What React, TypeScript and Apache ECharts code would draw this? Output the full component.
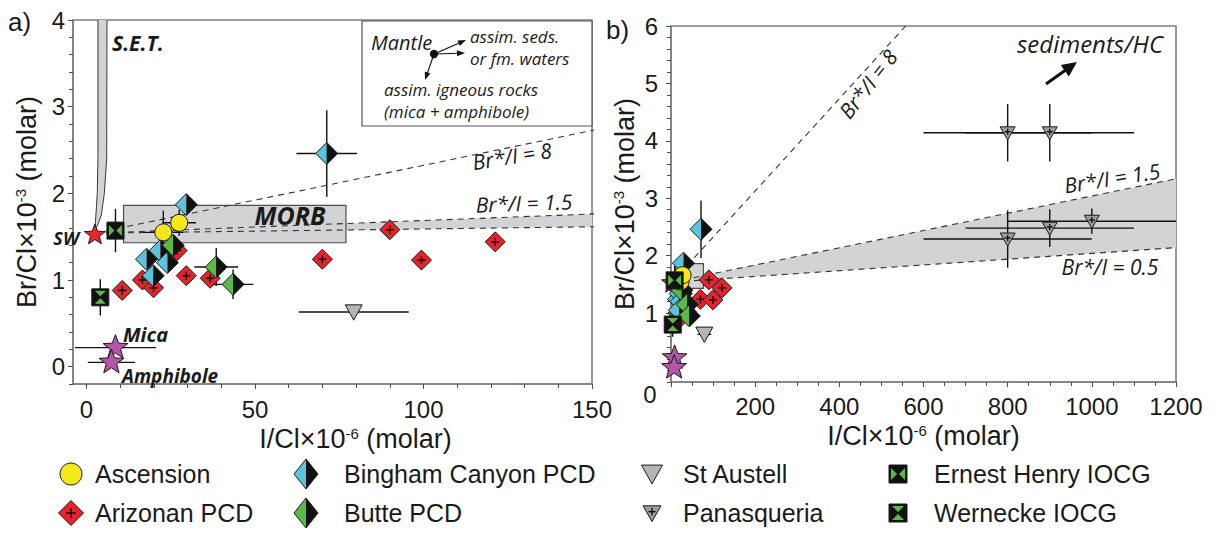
import React, { useEffect, useRef } from "react";
import * as echarts from "echarts";

const SANS = "'Liberation Sans', Arial, Helvetica, sans-serif";
const ITAL = "'Open Sans', 'Noto Sans', sans-serif";

// ---------- data: [I/Cl×10^-6, Br/Cl×10^-3, xErr, yErr] ----------
const seawater = [[2.5, 1.52, 0, 0]];
const ascension = [[22.8, 1.55, 6, 0.25], [27.5, 1.66, 5, 0.15]];
const arizonanPCD = [
  [10.6, 0.88, 0, 0], [16.6, 1.0, 0, 0], [19.9, 0.91, 0, 0], [29.6, 1.05, 0, 0],
  [36.7, 1.02, 0, 0], [26.9, 1.34, 0, 0], [70, 1.24, 0, 0], [90, 1.58, 0, 0],
  [99.4, 1.23, 0, 0], [121.3, 1.44, 0, 0],
];
const binghamPCD = [
  [29.6, 1.87, 0, 0], [17.8, 1.24, 0, 0], [21.9, 1.34, 0, 0], [24, 1.2, 0, 0],
  [19.8, 1.05, 0, 0], [71.3, 2.46, 9, 0.5],
];
const buttePCD = [[25.7, 1.4, 0, 0], [38.5, 1.15, 6.5, 0.22], [43.5, 0.95, 6, 0.17]];
const stAustell = [[79.3, 0.63, 16.3, 0]];
const panasqueria = [
  [800, 4.14, 200, 0.5], [900, 4.14, 200, 0.5], [800, 2.29, 200, 0.5],
  [900, 2.48, 200, 0.33], [1000, 2.6, 200, 0.22],
];
const ernestHenry = [[8.6, 1.57, 0, 0.25]];
const wernecke = [[4.1, 0.8, 0, 0.21]];
const mica = [[8.6, 0.22, 12, 0]];
const amphibole = [[7.4, 0.05, 7, 0]];

// reference lines (Br*/I mixing lines from seawater) and fields
const ratioLine8 = [[2.5, 1.54], [557.5, 6.0]];
const ratioLine15 = [[2.5, 1.54], [1200, 3.34]];
const ratioLine05 = [[2.5, 1.54], [1200, 2.14]];
const morbBox = [[11, 1.43], [77, 1.86]];
const setLeft = [[3.4, 4.4], [3.4, 2.4], [3.2, 2.0], [2.8, 1.75], [2.5, 1.6]];
const setRight = [[6.1, 4.4], [6.0, 2.4], [5.3, 2.0], [4.4, 1.75], [3.2, 1.62]];

// legend categories
const legendNames = [
  "Ascension", "Arizonan PCD", "Bingham Canyon PCD", "Butte PCD",
  "St Austell", "Panasqueria", "Ernest Henry IOCG", "Wernecke IOCG",
];

// tick labels
const aXLabels = [0, 50, 100, 150];
const aYLabels = [0, 1, 2, 3, 4];
const bXLabels = [200, 400, 600, 800, 1000, 1200];
const bXTicks = [0, 200, 400, 600, 800, 1000, 1200];
const bYLabels = [1, 2, 3, 4, 5, 6];

const range = (a: number, b: number, s: number) => {
  const out: number[] = [];
  for (let v = a; v <= b + 1e-9; v += s) out.push(Math.round(v * 1000) / 1000);
  return out;
};

// ---------- marker drawing ----------
const STROKE = { stroke: "#1a1a1a", lineWidth: 1 };

function starPts(cx: number, cy: number, R: number) {
  const r = R * 0.42;
  const pts: number[][] = [];
  for (let i = 0; i < 10; i++) {
    const rad = i % 2 === 0 ? R : r;
    const a = -Math.PI / 2 + (i * Math.PI) / 5;
    pts.push([cx + rad * Math.cos(a), cy + rad * Math.sin(a)]);
  }
  return pts;
}

function cross(cx: number, cy: number, h: number, lw = 1.5) {
  return [
    { type: "line", shape: { x1: cx - h, y1: cy, x2: cx + h, y2: cy }, style: { stroke: "#111", lineWidth: lw } },
    { type: "line", shape: { x1: cx, y1: cy - h, x2: cx, y2: cy + h }, style: { stroke: "#111", lineWidth: lw } },
  ];
}

function markerShapes(kind: string, cx: number, cy: number, legend = false): any[] {
  switch (kind) {
    case "ascension":
      return [{ type: "circle", shape: { cx, cy, r: legend ? 11 : 8.5 }, style: { fill: "#f4e81a", ...STROKE } }];
    case "arizonan": {
      const h = legend ? 12.5 : 10;
      return [
        { type: "polygon", shape: { points: [[cx, cy - h], [cx + h, cy], [cx, cy + h], [cx - h, cy]] }, style: { fill: "#e4232a", ...STROKE } },
        ...cross(cx, cy, legend ? 5 : 4),
      ];
    }
    case "bingham":
    case "butte": {
      const hx = legend ? 12 : 11;
      const hy = legend ? 15 : 11;
      const left = kind === "bingham" ? "#5cc3dc" : "#5bb947";
      return [
        { type: "polygon", shape: { points: [[cx, cy - hy], [cx, cy + hy], [cx - hx, cy]] }, style: { fill: left } },
        { type: "polygon", shape: { points: [[cx, cy - hy], [cx + hx, cy], [cx, cy + hy]] }, style: { fill: "#111" } },
        { type: "polygon", shape: { points: [[cx, cy - hy], [cx + hx, cy], [cx, cy + hy], [cx - hx, cy]] }, style: { fill: "none", ...STROKE } },
      ];
    }
    case "stAustell": {
      const w = legend ? 10.5 : 8.5;
      return [
        { type: "polygon", shape: { points: [[cx - w, cy - w * 0.85], [cx + w, cy - w * 0.85], [cx, cy + w * 0.95]] }, style: { fill: "#b5b5b5", ...STROKE } },
      ];
    }
    case "panasqueria": {
      const w = legend ? 9 : 7.5;
      return [
        { type: "polygon", shape: { points: [[cx - w, cy - w * 0.8], [cx + w, cy - w * 0.8], [cx, cy + w * 0.95]] }, style: { fill: "#9d9d9d", ...STROKE } },
        ...cross(cx, cy - w * 0.15, w * 0.4, 1.4),
      ];
    }
    case "ernest":
    case "wernecke": {
      const h = legend ? 9 : 8.5;
      const x0 = cx - h, x1 = cx + h, y0 = cy - h, y1 = cy + h;
      const g = "#5bb947";
      const tri =
        kind === "ernest"
          ? [
              [[x0 + 2, y0 + 3], [cx - 1, cy], [x0 + 2, y1 - 3]],
              [[x1 - 2, y0 + 3], [cx + 1, cy], [x1 - 2, y1 - 3]],
            ]
          : [
              [[x0 + 3, y0 + 2], [cx, cy - 1], [x1 - 3, y0 + 2]],
              [[x0 + 3, y1 - 2], [cx, cy + 1], [x1 - 3, y1 - 2]],
            ];
      return [
        { type: "rect", shape: { x: x0, y: y0, width: 2 * h, height: 2 * h }, style: { fill: "#111", ...STROKE } },
        ...tri.map((p) => ({ type: "polygon", shape: { points: p }, style: { fill: g } })),
      ];
    }
    case "seawater":
      return [{ type: "polygon", shape: { points: starPts(cx, cy, 11) }, style: { fill: "#ea2630", ...STROKE } }];
    case "mica":
      return [{ type: "polygon", shape: { points: starPts(cx, cy, 13) }, style: { fill: "#b456a7", ...STROKE } }];
  }
  return [];
}

// ---------- graphic helpers ----------
function txt(text: string, x: number, y: number, o: any = {}) {
  const align = o.align ?? "left";
  return {
    type: "text",
    x,
    y,
    rotation: o.rot ? (o.rot * Math.PI) / 180 : 0,
    z: 30,
    style: {
      text,
      fontSize: o.size ?? 20,
      fontFamily: o.family ?? ITAL,
      fontStyle: o.fstyle ?? "italic",
      fontWeight: o.weight ?? "normal",
      fill: o.fill ?? "#1a1a1a",
      lineHeight: o.lh,
      align,
      textAlign: align,
      verticalAlign: "middle",
      textVerticalAlign: "middle",
    },
  };
}

function arrow(x1: number, y1: number, x2: number, y2: number, head: number, w: number, lw: number) {
  const dx = x2 - x1, dy = y2 - y1;
  const L = Math.hypot(dx, dy);
  const ux = dx / L, uy = dy / L;
  const bx = x2 - ux * head, by = y2 - uy * head;
  return [
    { type: "line", z: 30, shape: { x1, y1, x2: bx + ux * 2, y2: by + uy * 2 }, style: { stroke: "#111", lineWidth: lw } },
    { type: "polygon", z: 30, shape: { points: [[x2, y2], [bx - uy * w, by + ux * w], [bx + uy * w, by - ux * w]] }, style: { fill: "#111" } },
  ];
}

// ---------- option ----------
function buildOption() {
  const AXIS_COLOR = "#808080";
  const TICK_COLOR = "#4d4d4d";

  const nameStyle = (pad?: number[]) => ({
    fontSize: 27,
    fontFamily: SANS,
    color: "#1a1a1a",
    padding: pad ?? [0, 0, 0, 0],
    rich: { sup: { fontSize: 15, fontFamily: SANS, color: "#1a1a1a", verticalAlign: "top" } },
  });

  const majorAxis = (grid: number, min: number, max: number, pos: string, ticks: number[], labels: number[], margin: number, extra: any = {}) => ({
    type: "value",
    gridIndex: grid,
    min,
    max,
    position: pos,
    axisLine: { show: true, onZero: false, lineStyle: { color: AXIS_COLOR, width: 1.6 } },
    axisTick: { show: true, customValues: ticks, length: 5, lineStyle: { color: TICK_COLOR, width: 1 } },
    axisLabel: {
      show: true,
      customValues: labels,
      fontSize: 24,
      fontFamily: SANS,
      color: "#1a1a1a",
      margin,
      formatter: (v: number) => String(v),
    },
    splitLine: { show: false },
    ...extra,
  });
  const minorAxis = (grid: number, min: number, max: number, pos: string, ticks: number[]) => ({
    type: "value",
    gridIndex: grid,
    min,
    max,
    position: pos,
    axisLine: { show: false, onZero: false },
    axisTick: { show: true, customValues: ticks, length: 4, lineStyle: { color: TICK_COLOR, width: 1 } },
    axisLabel: { show: false },
    splitLine: { show: false },
  });

  const xAxis = [
    majorAxis(0, -4, 150, "bottom", aXLabels, aXLabels, 13, {
      name: "I/Cl×10{sup|-6} (molar)", nameLocation: "middle", nameGap: 37, nameTextStyle: nameStyle([0, 0, 0, 46]),
    }),
    minorAxis(0, -4, 150, "bottom", range(0, 150, 10)),
    majorAxis(1, 0, 1200, "bottom", bXTicks, bXLabels, 12, {
      name: "I/Cl×10{sup|-6} (molar)", nameLocation: "middle", nameGap: 39, nameTextStyle: nameStyle([0, 0, 0, 0]),
    }),
    minorAxis(1, 0, 1200, "bottom", range(0, 1200, 50)),
  ];
  const yAxis = [
    majorAxis(0, -0.2, 4, "left", aYLabels, aYLabels, 8, {
      name: "Br/Cl×10{sup|-3} (molar)", nameLocation: "middle", nameGap: 33, nameTextStyle: nameStyle(),
    }),
    minorAxis(0, -0.2, 4, "left", range(-0.2, 4, 0.2)),
    majorAxis(1, -0.2, 6, "left", bYLabels, bYLabels, 13, {
      name: "Br/Cl×10{sup|-3} (molar)", nameLocation: "middle", nameGap: 33, nameTextStyle: nameStyle(),
    }),
    minorAxis(1, -0.2, 6, "left", range(-0.2, 6, 0.2)),
  ];

  const groups: [string, string, number[][]][] = [
    ["seawater", "Seawater", seawater],
    ["arizonan", legendNames[1], arizonanPCD],
    ["bingham", legendNames[2], binghamPCD],
    ["butte", legendNames[3], buttePCD],
    ["ascension", legendNames[0], ascension],
    ["ernest", legendNames[6], ernestHenry],
    ["wernecke", legendNames[7], wernecke],
    ["stAustell", legendNames[4], stAustell],
    ["panasqueria", legendNames[5], panasqueria],
    ["mica", "Mica", mica],
    ["mica", "Amphibole", amphibole],
  ];

  const series: any[] = [];
  [0, 1].forEach((p) => {
    const ax = p === 0 ? 0 : 2;
    const xmax = p === 0 ? 150 : 1200;
    const base = { xAxisIndex: ax, yAxisIndex: ax, silent: true, animation: false };

    // Br*/I 0.5–1.5 field
    series.push({
      ...base,
      type: "custom",
      clip: true,
      z: 1,
      data: [ratioLine15[0]],
      renderItem: (_: any, api: any) => ({
        type: "polygon",
        shape: { points: [...ratioLine15, ...ratioLine05.slice().reverse()].map((q) => api.coord(q)) },
        style: { fill: "#d1d3d4" },
      }),
    });
    // MORB field
    series.push({
      ...base,
      type: "custom",
      clip: true,
      z: 2,
      data: [morbBox[0]],
      renderItem: (_: any, api: any) => {
        const a = api.coord(morbBox[0]);
        const b = api.coord(morbBox[1]);
        return {
          type: "rect",
          shape: { x: a[0], y: b[1], width: b[0] - a[0], height: a[1] - b[1] },
          style: { fill: "#d1d3d4", stroke: "#4d4d4d", lineWidth: 1.2 },
        };
      },
    });
    if (p === 0) {
      series.push({
        ...base,
        type: "custom",
        clip: true,
        z: 2,
        data: [setLeft[0]],
        renderItem: (_: any, api: any) => ({
          type: "polygon",
          shape: { points: [...setLeft, ...setRight.slice().reverse()].map((q) => api.coord(q)) },
          style: { fill: "#d1d3d4", stroke: "#3a3a3a", lineWidth: 1 },
        }),
      });
    }
    [ratioLine8, ratioLine15, ratioLine05].forEach((ln) =>
      series.push({
        ...base,
        type: "line",
        z: 3,
        data: ln,
        symbol: "none",
        showSymbol: false,
        lineStyle: { color: "#333", width: 1.1, type: [6, 5] },
      })
    );
    // error bars
    const allPts = groups.flatMap((g) => g[2]).filter((d) => d[0] <= xmax);
    series.push({
      ...base,
      type: "custom",
      clip: true,
      z: 4,
      encode: { x: 0, y: 1 },
      data: allPts,
      renderItem: (_: any, api: any) => {
        const x = api.value(0), y = api.value(1), ex = api.value(2), ey = api.value(3);
        const ch: any[] = [];
        if (ex > 0) {
          const a = api.coord([x - ex, y]), b = api.coord([x + ex, y]);
          ch.push({ type: "line", shape: { x1: a[0], y1: a[1], x2: b[0], y2: b[1] }, style: { stroke: "#111", lineWidth: 1.4 } });
        }
        if (ey > 0) {
          const a = api.coord([x, y - ey]), b = api.coord([x, y + ey]);
          ch.push({ type: "line", shape: { x1: a[0], y1: a[1], x2: b[0], y2: b[1] }, style: { stroke: "#111", lineWidth: 1.4 } });
        }
        return { type: "group", children: ch };
      },
    });
    // markers
    groups.forEach(([kind, name, data]) => {
      series.push({
        ...base,
        type: "custom",
        name,
        z: 5,
        encode: { x: 0, y: 1 },
        data: data.filter((d) => d[0] <= xmax),
        renderItem: (_: any, api: any) => {
          const c = api.coord([api.value(0), api.value(1)]);
          return { type: "group", children: markerShapes(kind, c[0], c[1]) };
        },
      });
    });
  });

  // ---------- graphic: annotations & legend ----------
  const g: any[] = [];
  g.push(txt("a)", 8, 22, { size: 26, family: SANS, fstyle: "normal" }));
  g.push(txt("b)", 606, 30, { size: 26, family: SANS, fstyle: "normal" }));
  g.push(txt("0", 650, 394, { size: 24, family: SANS, fstyle: "normal", align: "center" }));

  // panel a labels
  g.push(txt("S.E.T.", 112, 43, { size: 21, weight: "bold" }));
  g.push(txt("SW", 79, 238, { size: 18, weight: "bold", align: "right" }));
  g.push(txt("MORB", 290, 215, { size: 25, weight: "bold", align: "center" }));
  g.push(txt("Mica", 123, 334, { size: 20, weight: "bold" }));
  g.push(txt("Amphibole", 122, 376, { size: 19, weight: "bold" }));
  g.push(txt("Br*/I = 8", 512, 156, { size: 21, align: "center", rot: 9 }));
  g.push(txt("Br*/I = 1.5", 524, 203, { size: 21, align: "center", rot: 2 }));

  // inset box
  g.push({ type: "rect", z: 25, shape: { x: 362, y: 21, width: 230, height: 105 }, style: { fill: "#fff", stroke: "#555", lineWidth: 1.2 } });
  g.push(txt("Mantle", 371, 42, { size: 20 }));
  g.push(txt("assim. seds.\nor fm. waters", 470, 47, { size: 17, lh: 22 }));
  g.push(txt("assim. igneous rocks\n(mica + amphibole)", 384, 100, { size: 17, lh: 22 }));
  g.push({ type: "circle", z: 30, shape: { cx: 434, cy: 54, r: 4.2 }, style: { fill: "#111" } });
  g.push(...arrow(434, 54, 466, 40, 8, 3, 1.1));
  g.push(...arrow(434, 54, 465, 53, 8, 3, 1.1));
  g.push(...arrow(434, 54, 425, 80, 8, 3, 1.1));

  // panel b labels
  g.push(txt("Br*/I = 8", 868, 84, { size: 21, align: "center", rot: 52 }));
  g.push(txt("Br*/I = 1.5", 1112, 178, { size: 21, align: "center", rot: 9 }));
  g.push(txt("Br*/I = 0.5", 1110, 267, { size: 21, align: "center" }));
  g.push(txt("sediments/HC", 1090, 43, { size: 24, align: "center" }));
  g.push(...arrow(1046, 84, 1077, 62, 15, 7, 3));

  // legend
  const kinds = ["ascension", "arizonan", "bingham", "butte", "stAustell", "panasqueria", "ernest", "wernecke"];
  const colIcon = [71, 306, 652, 898];
  const colText = [95, 344, 683, 934];
  const rowY = [474, 513];
  kinds.forEach((k, i) => {
    const col = Math.floor(i / 2);
    const row = i % 2;
    g.push({ type: "group", z: 30, children: markerShapes(k, colIcon[col], rowY[row], true) });
    g.push(txt(legendNames[i], colText[col], rowY[row], { size: 25, family: SANS, fstyle: "normal" }));
  });

  return {
    animation: false,
    backgroundColor: "#ffffff",
    grid: [
      { left: 73, top: 20, width: 519, height: 364, show: true, borderColor: AXIS_COLOR, borderWidth: 1.6, backgroundColor: "transparent", containLabel: false },
      { left: 671, top: 26, width: 505, height: 356, show: true, borderColor: AXIS_COLOR, borderWidth: 1.6, backgroundColor: "transparent", containLabel: false },
    ],
    xAxis,
    yAxis,
    series,
    graphic: { elements: g },
  };
}

export default function App() {
  const ref = useRef<HTMLDivElement>(null);
  useEffect(() => {
    const chart = echarts.init(ref.current!, null, { renderer: "svg" });
    chart.setOption(buildOption() as any);
    return () => chart.dispose();
  }, []);
  return (
    <div
      ref={ref}
      style={{ position: "fixed", left: 0, top: 0, width: 1216, height: 534, background: "#fff" }}
    />
  );
}
